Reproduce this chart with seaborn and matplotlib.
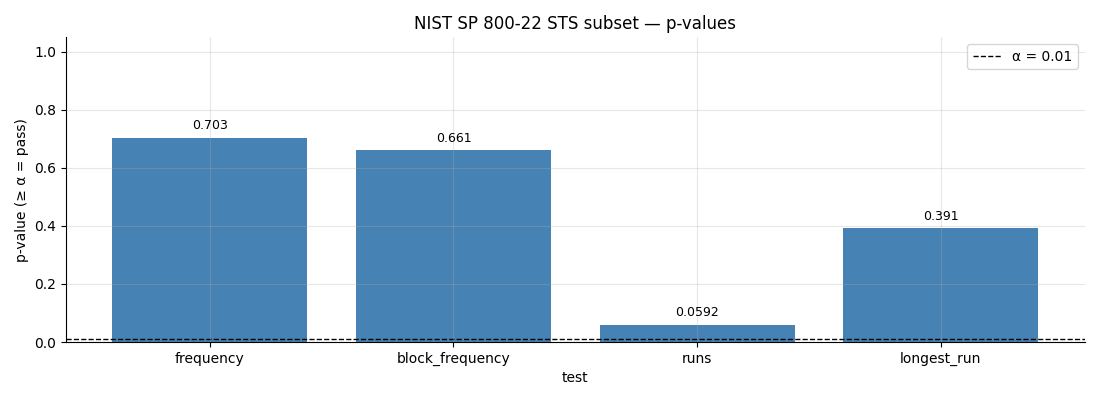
import matplotlib
matplotlib.use("Agg")
import matplotlib.pyplot as plt
import seaborn as sns
import pandas as pd

tests = ["frequency", "block_frequency", "runs", "longest_run"]
p_values = [0.703, 0.661, 0.0592, 0.391]
alpha_level = 0.01

sns.set_theme(style="white")
plt.rcParams['font.family'] = ['DejaVu Sans']
plt.rcParams.update({
    "text.color": "black",
    "axes.labelcolor": "black",
    "xtick.color": "black",
    "ytick.color": "black",
    "axes.edgecolor": "black",
})

df = pd.DataFrame({"test": tests, "p": p_values})

fig, ax = plt.subplots(figsize=(11, 4), dpi=100)
sns.barplot(data=df, x="test", y="p", color="#4682b4", saturation=1, width=0.8,
            linewidth=0, edgecolor="none", ax=ax)
ax.set_xlim(-0.59, 3.59)
ax.set_ylim(0, 1.05)
ax.axhline(alpha_level, color="black", linestyle="--", linewidth=1, label=f"α = {alpha_level}")
for i, v in enumerate(p_values):
    ax.annotate(f"{v:.3g}", (i, v), xytext=(0, 4), textcoords="offset points",
                ha="center", va="bottom", fontsize=9, color="black")
ax.grid(True, color="#b0b0b0", alpha=0.3, linewidth=0.8)
ax.set_axisbelow(False)
ax.tick_params(axis="both", which="both", bottom=True, left=True, length=3.5, width=0.8,
               labelsize=10, colors="black")
for s in ["top", "right"]:
    ax.spines[s].set_visible(False)
for s in ["left", "bottom"]:
    ax.spines[s].set_color("black")
    ax.spines[s].set_linewidth(0.8)
ax.set_xlabel("test", fontsize=10, color="black")
ax.set_ylabel("p-value (≥ α = pass)", fontsize=10, color="black")
ax.set_title("NIST SP 800-22 STS subset — p-values", fontsize=12, color="black")
leg = ax.legend(loc="upper right", fontsize=10)
for t in leg.get_texts():
    t.set_color("black")
fig.subplots_adjust(left=0.06, right=0.986, top=0.907, bottom=0.145)
fig.savefig("out.png", dpi=100)
